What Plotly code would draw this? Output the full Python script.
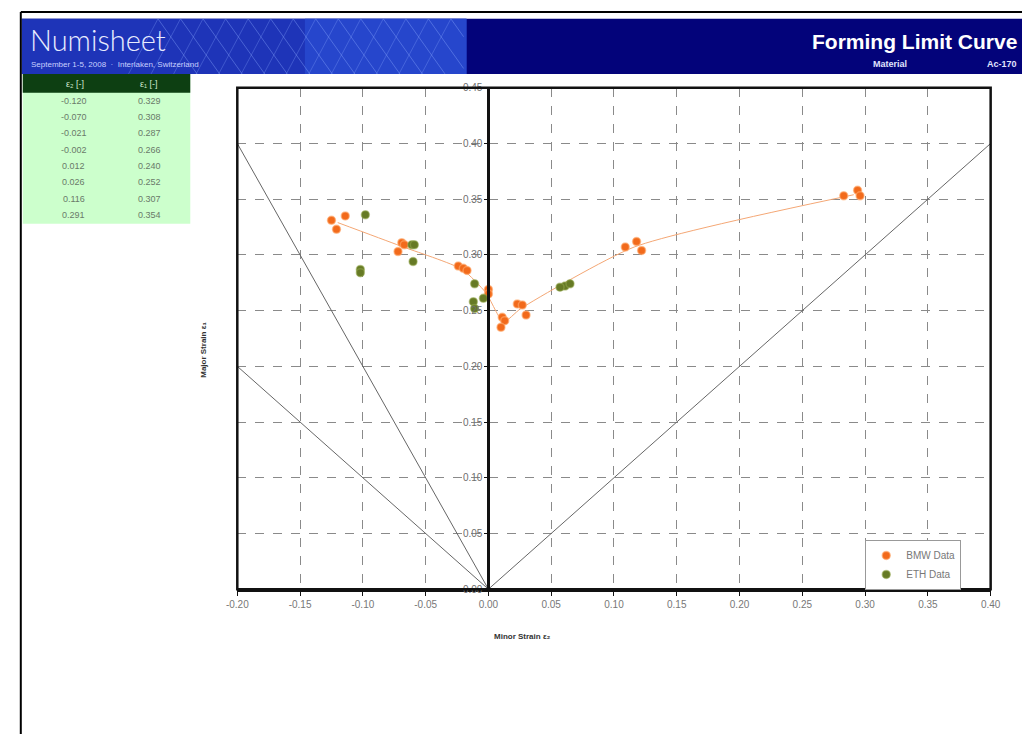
import plotly.graph_objects as go

# ---- measured strain points ----
bmw_minor = [-0.125, -0.121, -0.114, -0.069, -0.072, -0.067, -0.024, -0.020, -0.017,
             0.000, 0.000, 0.011, 0.013, 0.010, 0.023, 0.027, 0.030,
             0.109, 0.118, 0.122, 0.283, 0.294, 0.296]
bmw_major = [0.331, 0.323, 0.335, 0.311, 0.303, 0.309, 0.290, 0.288, 0.286,
             0.269, 0.265, 0.244, 0.241, 0.235, 0.256, 0.255, 0.246,
             0.307, 0.312, 0.304, 0.353, 0.358, 0.353]

eth_minor = [-0.098, -0.102, -0.102, -0.061, -0.059, -0.060,
             -0.011, -0.004, -0.012, -0.011, 0.061, 0.065, 0.057]
eth_major = [0.336, 0.287, 0.284, 0.309, 0.309, 0.294,
             0.274, 0.261, 0.258, 0.252, 0.272, 0.274, 0.271]

# ---- forming limit curve (tabulated) ----
flc_minor = [-0.120, -0.070, -0.021, -0.002, 0.012, 0.026, 0.116, 0.291]
flc_major = [0.329, 0.308, 0.287, 0.266, 0.240, 0.252, 0.307, 0.354]
flc_minor_txt = ["-0.120", "-0.070", "-0.021", "-0.002", "0.012", "0.026", "0.116", "0.291"]
flc_major_txt = ["0.329", "0.308", "0.287", "0.266", "0.240", "0.252", "0.307", "0.354"]

# ---- strain path reference lines ----
path_a_minor = [-0.20, 0.0]     # e1 = -2 e2
path_a_major = [0.40, 0.0]
path_b_minor = [-0.20, 0.0]     # e1 = -e2
path_b_major = [0.20, 0.0]
path_c_minor = [0.0, 0.40]      # e1 = e2
path_c_major = [0.0, 0.40]

tick_vals = [round(-0.20 + 0.05 * i, 2) for i in range(13)]
tick_text = ["%.2f" % v for v in tick_vals]
ytick_vals = [round(0.05 * i, 2) for i in range(10)]
ytick_text = ["%.2f" % v for v in ytick_vals]

W, H = 1032, 740
FONT = "Liberation Sans"

def px(x):
    return x / W

def py(y):
    return 1 - y / H

xdom = [px(231), px(1000)]
ydom = [py(593), py(84)]
yaxis_pos = xdom[0] + (xdom[1] - xdom[0]) * (0.0 - (-0.20)) / 0.60

fig = go.Figure()

for mx, my in [(path_a_minor, path_a_major), (path_b_minor, path_b_major),
               (path_c_minor, path_c_major)]:
    fig.add_trace(go.Scatter(x=mx, y=my, mode="lines",
                             line=dict(color="#666666", width=1),
                             hoverinfo="skip", showlegend=False))

fig.add_trace(go.Scatter(x=flc_minor, y=flc_major, mode="lines",
                         line=dict(color="#f4a775", width=1, shape="spline", smoothing=0.6),
                         hoverinfo="skip", showlegend=False))

fig.add_trace(go.Scatter(x=bmw_minor, y=bmw_major, mode="markers", name="BMW Data",
                         marker=dict(color="#f26a1b", size=8,
                                     line=dict(color="rgba(255,170,110,0.6)", width=1.5))))
fig.add_trace(go.Scatter(x=eth_minor, y=eth_major, mode="markers", name="ETH Data",
                         marker=dict(color="#667a25", size=8,
                                     line=dict(color="rgba(150,170,80,0.5)", width=1.5))))

shapes = []
# page frame
shapes.append(dict(type="line", xref="paper", yref="paper", x0=px(10), x1=1, y0=py(7), y1=py(7),
                   line=dict(color="black", width=2)))
shapes.append(dict(type="line", xref="paper", yref="paper", x0=px(10), x1=px(10), y0=py(7), y1=0,
                   line=dict(color="black", width=2)))
# banner
shapes.append(dict(type="rect", xref="paper", yref="paper", x0=px(11), x1=1, y0=py(70), y1=py(14),
                   fillcolor="#03037a", line=dict(width=0), layer="below"))
shapes.append(dict(type="rect", xref="paper", yref="paper", x0=px(11), x1=px(465), y0=py(70), y1=py(14),
                   fillcolor="#1e34b8", line=dict(width=0), layer="below"))
shapes.append(dict(type="rect", xref="paper", yref="paper", x0=px(300), x1=px(465), y0=py(70), y1=py(14),
                   fillcolor="#2646cc", line=dict(width=0), layer="below"))
# lattice texture in the banner
for k in range(14):
    x0 = 150 + k * 23
    x1 = min(x0 + 40, 462)
    shapes.append(dict(type="line", xref="paper", yref="paper",
                       x0=px(x0), x1=px(x1), y0=py(14), y1=py(14 + (x1 - x0) * 56 / 40),
                       line=dict(color="rgba(140,170,255,0.4)", width=1)))
    shapes.append(dict(type="line", xref="paper", yref="paper",
                       x0=px(x0), x1=px(x0 - 30), y0=py(14), y1=py(70),
                       line=dict(color="rgba(140,170,255,0.3)", width=1)))
# table background
shapes.append(dict(type="rect", xref="paper", yref="paper", x0=px(12), x1=px(183), y0=py(222), y1=py(70),
                   fillcolor="#ccffcc", line=dict(width=0), layer="below"))
shapes.append(dict(type="rect", xref="paper", yref="paper", x0=px(12), x1=px(183), y0=py(89), y1=py(70),
                   fillcolor="#0d3f12", line=dict(width=0), layer="below"))
# plot frame
shapes.append(dict(type="rect", xref="x domain", yref="y domain", x0=0, x1=1, y0=0, y1=1,
                   line=dict(color="#111111", width=2.5)))

annotations = []
annotations.append(dict(text="Numisheet", x=px(17), y=py(35), xref="paper", yref="paper",
                        xanchor="left", yanchor="middle", showarrow=False,
                        font=dict(family="Lato", size=29, color="#e8ecff", weight=300)))
annotations.append(dict(text="September 1-5, 2008  ·  Interlaken, Switzerland", x=px(18), y=py(60),
                        xref="paper", yref="paper", xanchor="left", yanchor="middle", showarrow=False,
                        font=dict(family=FONT, size=8, color="#c8d0ff")))
annotations.append(dict(text="<b>Forming Limit Curve</b>", x=px(1029), y=py(37), xref="paper", yref="paper",
                        xanchor="right", yanchor="middle", showarrow=False,
                        font=dict(family=FONT, size=21, color="white")))
annotations.append(dict(text="<b>Material</b>", x=px(897), y=py(60), xref="paper", yref="paper",
                        xanchor="center", yanchor="middle", showarrow=False,
                        font=dict(family=FONT, size=9, color="#e0e4ff")))
annotations.append(dict(text="<b>Ac-170</b>", x=px(1029), y=py(60), xref="paper", yref="paper",
                        xanchor="right", yanchor="middle", showarrow=False,
                        font=dict(family=FONT, size=9, color="#e0e4ff")))

# table header and rows
annotations.append(dict(text="ε₂ [-]", x=px(65), y=py(80), xref="paper", yref="paper",
                        xanchor="center", yanchor="middle", showarrow=False,
                        font=dict(family=FONT, size=9, color="#cfe8cf")))
annotations.append(dict(text="ε₁ [-]", x=px(141), y=py(80), xref="paper", yref="paper",
                        xanchor="center", yanchor="middle", showarrow=False,
                        font=dict(family=FONT, size=9, color="#cfe8cf")))
for i, (a, b) in enumerate(zip(flc_minor_txt, flc_major_txt)):
    yy = 97 + i * 16.6
    annotations.append(dict(text=a, x=px(64), y=py(yy), xref="paper", yref="paper",
                            xanchor="center", yanchor="middle", showarrow=False,
                            font=dict(family=FONT, size=9, color="#6a7a6a")))
    annotations.append(dict(text=b, x=px(141), y=py(yy), xref="paper", yref="paper",
                            xanchor="center", yanchor="middle", showarrow=False,
                            font=dict(family=FONT, size=9, color="#6a7a6a")))

# axis titles
annotations.append(dict(text="<b>Major Strain ε₁</b>", x=px(197), y=py(350), xref="paper", yref="paper",
                        xanchor="center", yanchor="middle", showarrow=False, textangle=-90,
                        font=dict(family=FONT, size=8, color="#333333")))
annotations.append(dict(text="<b>Minor Strain ε₂</b>", x=px(522), y=py(641), xref="paper", yref="paper",
                        xanchor="center", yanchor="middle", showarrow=False,
                        font=dict(family=FONT, size=8, color="#333333")))

fig.update_layout(
    width=W, height=H,
    margin=dict(l=0, r=0, t=0, b=0),
    paper_bgcolor="white", plot_bgcolor="white",
    font=dict(family=FONT, size=10, color="#666666"),
    shapes=shapes, annotations=annotations,
    xaxis=dict(domain=xdom, range=[-0.20, 0.40], tickvals=tick_vals, ticktext=tick_text,
               showgrid=True, gridcolor="#8a8a8a", griddash="dash", gridwidth=1,
               zeroline=False, showline=True, linecolor="#111111", linewidth=3,
               ticks="outside", ticklen=4, tickcolor="#111111",
               tickfont=dict(family=FONT, size=10, color="#777777")),
    yaxis=dict(domain=ydom, range=[0.0, 0.45], tickvals=ytick_vals, ticktext=ytick_text,
               anchor="free", position=yaxis_pos, side="left",
               showgrid=True, gridcolor="#8a8a8a", griddash="dash", gridwidth=1,
               zeroline=False, showline=True, linecolor="#111111", linewidth=3,
               ticks="outside", ticklen=3, tickcolor="#111111",
               tickfont=dict(family=FONT, size=10, color="#6e6e6e")),
    legend=dict(x=px(872), y=py(543), xanchor="left", yanchor="top",
                bgcolor="white", bordercolor="#999999", borderwidth=1,
                font=dict(family=FONT, size=10, color="#777777"),
                tracegroupgap=0),
    showlegend=True,
)

fig.write_html("out.html")
